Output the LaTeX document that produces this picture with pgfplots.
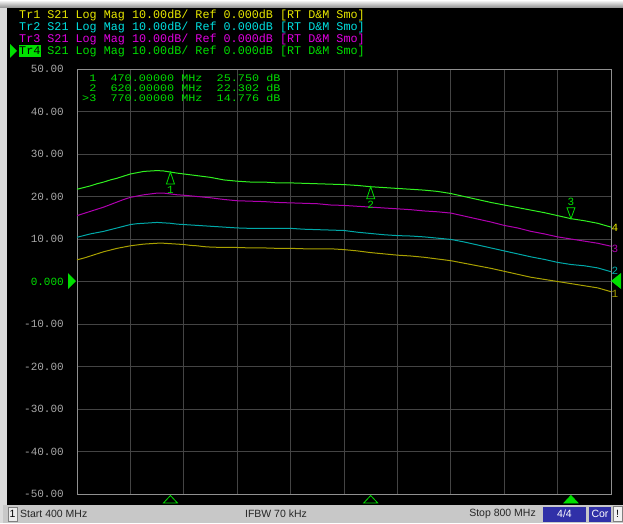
\documentclass[border=0pt]{standalone}
\usepackage{fontspec}
\setmainfont{Liberation Sans}
\setmonofont{Liberation Mono}
\newfontfamily\pixmono[FakeStretch=1.18]{Liberation Mono}
\usepackage{pgfplots}
\pgfplotsset{compat=1.18}
\definecolor{hyel}{HTML}{E8E800}
\definecolor{hcya}{HTML}{00E0E0}
\definecolor{hmag}{HTML}{E000E0}
\definecolor{hgrn}{HTML}{00E000}
\definecolor{cyel}{HTML}{A8A000}
\definecolor{ccya}{HTML}{00A8A8}
\definecolor{cmag}{HTML}{B000B0}
\definecolor{cgrn}{HTML}{30F020}
\definecolor{gridc}{HTML}{444444}
\definecolor{framec}{HTML}{909090}
\definecolor{tickc}{HTML}{A8A8A8}
\definecolor{winbg}{HTML}{DCDCDC}
\definecolor{statbg}{HTML}{C8C8C8}
\definecolor{boxblue}{HTML}{3030A8}
\pgfdeclareplotmark{mkup}{\pgfpathmoveto{\pgfpoint{0pt}{0pt}}\pgfpathlineto{\pgfpoint{-4pt}{-12pt}}\pgfpathlineto{\pgfpoint{4pt}{-12pt}}\pgfpathclose\pgfusepathqstroke}
\pgfdeclareplotmark{mkdown}{\pgfpathmoveto{\pgfpoint{0pt}{0pt}}\pgfpathlineto{\pgfpoint{-4pt}{11pt}}\pgfpathlineto{\pgfpoint{4pt}{11pt}}\pgfpathclose\pgfusepathqstroke}
\pgfdeclareplotmark{mkbot}{\pgfpathmoveto{\pgfpoint{0pt}{-1.5pt}}\pgfpathlineto{\pgfpoint{-7pt}{-9pt}}\pgfpathlineto{\pgfpoint{7pt}{-9pt}}\pgfpathclose\pgfusepathqstroke}
\pgfdeclareplotmark{mkbotf}{\pgfpathmoveto{\pgfpoint{0pt}{-1.5pt}}\pgfpathlineto{\pgfpoint{-7pt}{-9pt}}\pgfpathlineto{\pgfpoint{7pt}{-9pt}}\pgfpathclose\pgfusepathqfillstroke}
\newcommand{\hf}{\ttfamily\fontsize{11.75}{12}\selectfont}
\newcommand{\rf}{\pixmono\fontsize{10}{10}\selectfont}
\newcommand{\tf}{\ttfamily\fontsize{11}{11}\selectfont}
\begin{document}
\begin{tikzpicture}[x=1pt,y=1pt]
\fill[winbg] (0,0) rectangle (623,523);
\shade[top color=white, bottom color=black!45] (0,515) rectangle (623,523);
\fill[black] (7,18) rectangle (623,515);
\fill[statbg] (3,0) rectangle (623,18);
% header
\node[anchor=base west, inner sep=0pt, text=hyel, font=\hf] at (19,504) {Tr1 S21 Log Mag 10.00dB/ Ref 0.000dB [RT D\&M Smo]};
\node[anchor=base west, inner sep=0pt, text=hcya, font=\hf] at (19,492) {Tr2 S21 Log Mag 10.00dB/ Ref 0.000dB [RT D\&M Smo]};
\node[anchor=base west, inner sep=0pt, text=hmag, font=\hf] at (19,480) {Tr3 S21 Log Mag 10.00dB/ Ref 0.000dB [RT D\&M Smo]};
\fill[hgrn] (19,466) rectangle (41,478);
\node[anchor=base west, inner sep=0pt, text=black, font=\hf] at (19,468) {Tr4};
\node[anchor=base west, inner sep=0pt, text=hgrn, font=\hf] at (47.2,468) {S21 Log Mag 10.00dB/ Ref 0.000dB [RT D\&M Smo]};
\fill[hgrn] (10,479) -- (17,472) -- (10,465) -- cycle;
\begin{axis}[at={(77pt,29pt)}, anchor=south west, width=534pt, height=425pt, scale only axis,
  xmin=400, xmax=800, ymin=-50, ymax=50, clip=false,
  xtick={400,440,...,800}, ytick={-50,-40,...,50},
  xticklabels={},
  yticklabels={-50.00,-40.00,-30.00,-20.00,-10.00,\textcolor{hgrn}{0.000},10.00,20.00,30.00,40.00,50.00},
  grid=major, major grid style={color=gridc, line width=0.9pt},
  axis line style={color=framec, line width=0.9pt},
  major tick length=0pt,
  yticklabel style={font=\tf, text=tickc, anchor=east, inner sep=0pt, xshift=-13pt},
  axis background/.style={fill=black},
  every axis plot/.append style={line width=1pt}]
\addplot[cyel, mark=none] coordinates {
(400,5.1)(405,5.5)(410,6.0)(415,6.5)(420,7.0)(425,7.4)(430,7.8)(435,8.1)(440,8.4)(445,8.6)(450,8.8)(455,8.9)(460,9.0)(465,9.0)(470,8.9)(475,8.8)(480,8.7)(485,8.5)(490,8.4)(495,8.2)(500,8.1)(510,8.0)(520,8.0)(530,7.9)(540,7.9)(550,7.8)(560,7.8)(570,7.7)(580,7.7)(590,7.7)(600,7.5)(610,7.2)(620,6.8)(630,6.5)(640,6.2)(650,6.0)(660,5.7)(670,5.3)(680,4.9)(690,4.3)(700,3.7)(710,3.1)(720,2.4)(730,1.7)(740,1.0)(750,0.5)(760,0.0)(770,-0.5)(780,-1.0)(790,-1.5)(800,-2.4)};
\addplot[ccya, mark=none] coordinates {
(400,10.4)(405,10.8)(410,11.2)(415,11.5)(420,11.8)(425,12.2)(430,12.6)(435,13.0)(440,13.4)(445,13.6)(450,13.7)(455,13.8)(460,13.9)(465,13.8)(470,13.7)(475,13.5)(480,13.4)(490,13.2)(500,13.0)(510,12.8)(520,12.6)(530,12.5)(540,12.5)(550,12.5)(560,12.5)(570,12.3)(580,12.2)(590,12.1)(600,12.0)(610,11.6)(620,11.3)(630,11.0)(640,10.8)(650,10.7)(660,10.5)(670,10.2)(680,9.9)(690,9.3)(700,8.6)(710,7.9)(720,7.2)(730,6.5)(740,5.8)(750,5.2)(760,4.5)(770,4.0)(780,3.7)(790,3.2)(800,2.3)};
\addplot[cmag, mark=none] coordinates {
(400,15.5)(405,16.0)(410,16.5)(415,17.0)(420,17.5)(425,18.1)(430,18.7)(435,19.3)(440,19.8)(445,20.1)(450,20.4)(455,20.6)(460,20.8)(465,20.8)(470,20.6)(475,20.4)(480,20.3)(490,20.0)(500,19.7)(510,19.3)(520,19.0)(530,18.9)(540,18.8)(550,18.6)(560,18.5)(570,18.4)(580,18.3)(590,18.0)(600,17.9)(610,17.7)(620,17.5)(630,17.3)(640,17.1)(650,16.9)(660,16.6)(670,16.4)(680,16.1)(690,15.4)(700,14.7)(710,14.0)(720,13.2)(730,12.6)(740,11.8)(750,11.2)(760,10.5)(770,10.0)(780,9.5)(790,9.0)(800,8.3)};
\addplot[cgrn, mark=none] coordinates {
(400,21.7)(405,22.1)(410,22.5)(415,23.0)(420,23.4)(425,23.9)(430,24.3)(435,24.8)(440,25.3)(445,25.6)(450,25.9)(455,26.0)(460,26.1)(465,26.0)(470,25.75)(475,25.5)(480,25.3)(490,24.9)(500,24.5)(510,23.9)(520,23.6)(530,23.4)(540,23.4)(550,23.2)(560,23.2)(570,23.1)(580,23.0)(590,22.9)(600,22.8)(610,22.6)(620,22.3)(630,22.1)(640,21.9)(650,21.7)(660,21.5)(670,21.2)(680,20.7)(690,20.0)(700,19.3)(710,18.6)(720,18.0)(730,17.4)(740,16.8)(750,16.2)(760,15.5)(770,14.78)(780,14.3)(790,13.7)(800,12.8)};
% markers
\addplot[hgrn, only marks, mark=mkup, line width=0.8pt, point meta=explicit symbolic, nodes near coords,
  every node near coord/.style={anchor=center, yshift=-18pt, font=\tf, text=hgrn}]
  coordinates {(470,25.75)[1] (620,22.302)[2]};
\addplot[hgrn, only marks, mark=mkdown, line width=0.8pt, point meta=explicit symbolic, nodes near coords,
  every node near coord/.style={anchor=center, yshift=17pt, font=\tf, text=hgrn}]
  coordinates {(770,14.776)[3]};
\addplot[hgrn, only marks, mark=mkbot, line width=0.8pt] coordinates {(470,-50) (620,-50)};
\addplot[hgrn, fill=hgrn, only marks, mark=mkbotf, line width=0.8pt] coordinates {(770,-50)};
\node[anchor=west, inner sep=0.5pt, font=\tf, text=cyel] at (axis cs:800,-2.8) {1};
\node[anchor=west, inner sep=0.5pt, font=\tf, text=ccya] at (axis cs:800,2.5) {2};
\node[anchor=west, inner sep=0.5pt, font=\tf, text=cmag] at (axis cs:800,7.6) {3};
\node[anchor=west, inner sep=0.5pt, font=\tf, text=hyel] at (axis cs:800,12.6) {4};
\end{axis}
% marker readout
\node[anchor=base west, inner sep=0pt, text=hgrn, font=\rf] at (82,441) {~1~~470.00000~MHz~~25.750~dB};
\node[anchor=base west, inner sep=0pt, text=hgrn, font=\rf] at (82,431) {~2~~620.00000~MHz~~22.302~dB};
\node[anchor=base west, inner sep=0pt, text=hgrn, font=\rf] at (82,421) {>3~~770.00000~MHz~~14.776~dB};
% reference triangles
\fill[hgrn] (68,250) -- (76,242) -- (68,234) -- cycle;
\fill[hgrn] (611,242) -- (621,250) -- (621,234) -- cycle;
% status bar
\draw[black!50, fill=black!8] (8,2) rectangle (17,16);
\node[font=\fontsize{10.5}{12}\selectfont, inner sep=0pt] at (12.5,9) {1};
\node[anchor=west, inner sep=0pt, font=\fontsize{10.5}{12}\selectfont, text=black!85] at (20,9) {Start 400 MHz};
\node[inner sep=0pt, font=\fontsize{10.5}{12}\selectfont, text=black!85] at (276,9) {IFBW 70 kHz};
\node[anchor=east, inner sep=0pt, font=\fontsize{10.5}{12}\selectfont, text=black!85] at (536,9) {Stop 800 MHz};
\fill[boxblue] (543,1.5) rectangle (586,16.5);
\node[inner sep=0pt, text=white, font=\fontsize{10.5}{12}\selectfont] at (564.5,9) {4/4};
\fill[boxblue] (589,1.5) rectangle (611,16.5);
\node[inner sep=0pt, text=white, font=\fontsize{10.5}{12}\selectfont] at (600,9) {Cor};
\draw[black!50, fill=black!5] (613,1.5) rectangle (622,16.5);
\node[inner sep=0pt, font=\fontsize{10.5}{12}\selectfont] at (617.5,9) {!};
\end{tikzpicture}
\end{document}
